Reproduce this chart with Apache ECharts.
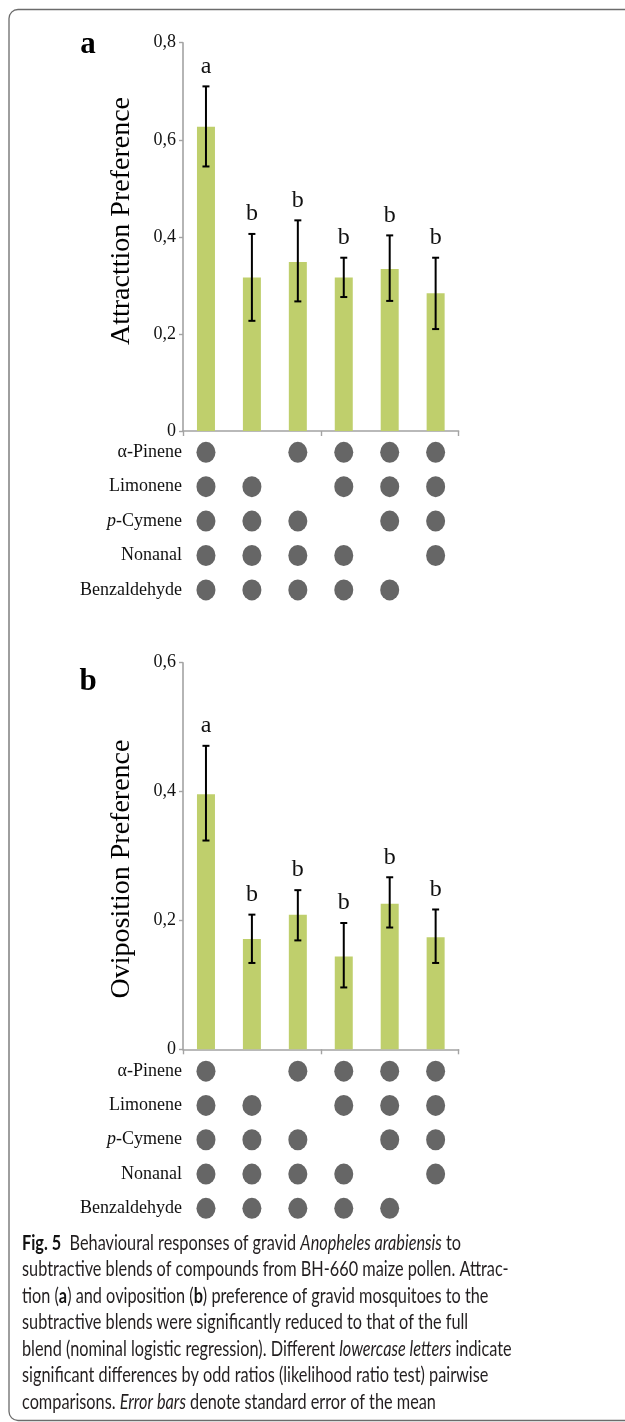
<!DOCTYPE html>
<html>
<head>
<meta charset="utf-8">
<script src="https://cdn.jsdelivr.net/npm/echarts@6/dist/echarts.min.js"></script>
<style>
html,body{margin:0;padding:0;background:#fff;}
#chart{width:625px;height:1422px;}
</style>
</head>
<body>
<div id="chart"></div>
<script>
// ---- data ----
const blends = ['Full blend', '−α-Pinene', '−Limonene', '−p-Cymene', '−Nonanal', '−Benzaldehyde'];
const compounds = ['α-Pinene', 'Limonene', 'p-Cymene', 'Nonanal', 'Benzaldehyde'];

const attrMean = [0.627, 0.316, 0.348, 0.316, 0.334, 0.284];
const attrLow  = [0.545, 0.227, 0.267, 0.276, 0.268, 0.210];
const attrHigh = [0.710, 0.406, 0.434, 0.357, 0.403, 0.357];
const attrLetters = ['a', 'b', 'b', 'b', 'b', 'b'];

const ovipMean = [0.396, 0.171, 0.209, 0.144, 0.226, 0.174];
const ovipLow  = [0.324, 0.134, 0.169, 0.096, 0.189, 0.134];
const ovipHigh = [0.471, 0.209, 0.247, 0.196, 0.267, 0.217];
const ovipLetters = ['a', 'b', 'b', 'b', 'b', 'b'];

// presence of each compound (rows) in each blend (columns)
const presAlphaPinene  = [1, 0, 1, 1, 1, 1];
const presLimonene     = [1, 1, 0, 1, 1, 1];
const presPCymene      = [1, 1, 1, 0, 1, 1];
const presNonanal      = [1, 1, 1, 1, 0, 1];
const presBenzaldehyde = [1, 1, 1, 1, 1, 0];

const attrTicks = [0, 0.2, 0.4, 0.6, 0.8];
const ovipTicks = [0, 0.2, 0.4, 0.6];

const captionLines = [
  '{b|Fig. 5}  Behavioural responses of gravid {i|Anopheles arabiensis} to',
  'subtractive blends of compounds from BH-660 maize pollen. Attrac-',
  'tion ({b|a}) and oviposition ({b|b}) preference of gravid mosquitoes to the',
  'subtractive blends were significantly reduced to that of the full',
  'blend (nominal logistic regression). Different {i|lowercase letters} indicate',
  'significant differences by odd ratios (likelihood ratio test) pairwise',
  'comparisons. {i|Error bars} denote standard error of the mean'
];

// ---- styles ----
const SERIF = '"Liberation Serif", "Times New Roman", serif';
const SANS = 'Lato, "Open Sans", sans-serif';
const BAR_COLOR = '#bfcf6c';
const AXIS_COLOR = '#a3a3a3';
const DOT_COLOR = '#666666';

const presence = [presAlphaPinene, presLimonene, presPCymene, presNonanal, presBenzaldehyde];
function dotData() {
  const out = [];
  presence.forEach((row, r) => row.forEach((v, c) => { if (v) out.push([c, r]); }));
  return out;
}

const G = [
  {left: 183, top: 42.7, width: 275.6, height: 388.3},   // bars a
  {left: 183, top: 435.1, width: 275.6, height: 172},    // dots a
  {left: 183, top: 662.7, width: 275.6, height: 386.6},  // bars b
  {left: 183, top: 1054, width: 275.6, height: 171.5}    // dots b
];

function valAxis(gi, max) {
  return {
    type: 'value', gridIndex: gi, min: 0, max: max, interval: 0.2,
    axisLine: {show: true, lineStyle: {color: AXIS_COLOR, width: 1.6}},
    axisTick: {show: true, length: 4, lineStyle: {color: AXIS_COLOR, width: 1.4}},
    splitLine: {show: false},
    axisLabel: {
      margin: 7, color: '#111', fontFamily: SERIF, fontSize: 18,
      formatter: v => v === 0 ? '0' : v.toFixed(1).replace('.', ',')
    }
  };
}
function catAxisBars(gi) {
  return {
    type: 'category', gridIndex: gi, data: blends,
    axisLine: {show: true, lineStyle: {color: AXIS_COLOR, width: 1.6}},
    axisTick: {show: true, inside: false, length: 5, lineStyle: {color: AXIS_COLOR, width: 1.4}},
    axisLabel: {show: false}
  };
}
function catAxisDots(gi) {
  return {
    type: 'category', gridIndex: gi, data: blends,
    axisLine: {show: false}, axisTick: {show: false}, axisLabel: {show: false}
  };
}
function rowAxis(gi) {
  return {
    type: 'category', gridIndex: gi, data: compounds, inverse: true,
    axisLine: {show: false}, axisTick: {show: false}, splitLine: {show: false},
    axisLabel: {
      margin: 1, color: '#111', fontFamily: SERIF, fontSize: 18,
      formatter: v => v === 'p-Cymene' ? '{i|p}-Cymene' : v,
      rich: {i: {fontStyle: 'italic', fontFamily: SERIF, fontSize: 18, color: '#111'}}
    }
  };
}

function errSeries(ai, low, high, letters) {
  return {
    type: 'custom', xAxisIndex: ai, yAxisIndex: ai, z: 5,
    data: blends.map((b, i) => [i, low[i], high[i]]),
    renderItem: function (params, api) {
      const lo = api.coord([api.value(0), api.value(1)]);
      const hi = api.coord([api.value(0), api.value(2)]);
      const cap = 3.5;
      const st = {stroke: '#000', lineWidth: 2};
      return {
        type: 'group',
        children: [
          {type: 'line', shape: {x1: lo[0], y1: lo[1], x2: hi[0], y2: hi[1]}, style: st},
          {type: 'line', shape: {x1: lo[0] - cap, y1: lo[1], x2: lo[0] + cap, y2: lo[1]}, style: st},
          {type: 'line', shape: {x1: hi[0] - cap, y1: hi[1], x2: hi[0] + cap, y2: hi[1]}, style: st},
          {type: 'text', x: hi[0], y: hi[1] - 20,
           style: {text: letters[params.dataIndex], fill: '#111', font: '24px ' + SERIF,
                   textAlign: 'center', textVerticalAlign: 'middle'}}
        ]
      };
    }
  };
}
function barSeries(ai, vals) {
  return {
    type: 'bar', xAxisIndex: ai, yAxisIndex: ai, data: vals, barWidth: 18,
    itemStyle: {color: BAR_COLOR}, silent: true
  };
}
function dotSeries(ai) {
  return {
    type: 'scatter', xAxisIndex: ai, yAxisIndex: ai, data: dotData(),
    symbol: 'circle', symbolSize: [19, 21], itemStyle: {color: DOT_COLOR, opacity: 1}, silent: true
  };
}

// caption scaling so that the widest line fits the measured width
const capFontSize = 20.5;
const capCanvas = document.createElement('canvas').getContext('2d');
capCanvas.font = capFontSize + 'px Lato';
const plain5 = captionLines[4].replace(/\{[a-z]\|([^}]*)\}/g, '$1');
const capScale = Math.min(1, 498 / capCanvas.measureText(plain5).width);

const capTop = 1243;
const capStep = 26.5;

const graphics = [
  {type: 'rect', shape: {x: 9, y: 9.5, width: 700, height: 1411, r: 9},
   style: {fill: 'none', stroke: '#6b6b6b', lineWidth: 1.3}, silent: true},
  {type: 'text', x: 88, y: 45, style: {text: 'a', font: 'bold 31px ' + SERIF, fill: '#000', textAlign: 'center', textVerticalAlign: 'middle'}},
  {type: 'text', x: 88, y: 682, style: {text: 'b', font: 'bold 31px ' + SERIF, fill: '#000', textAlign: 'center', textVerticalAlign: 'middle'}},
  {type: 'text', x: 121.7, y: 221, rotation: Math.PI / 2,
   style: {text: 'Attracttion Preference', font: '28px ' + SERIF, fill: '#000', textAlign: 'center', textVerticalAlign: 'middle'}},
  {type: 'text', x: 121.7, y: 869, rotation: Math.PI / 2,
   style: {text: 'Oviposition Preference', font: '28px ' + SERIF, fill: '#000', textAlign: 'center', textVerticalAlign: 'middle'}}
];
captionLines.forEach((line, i) => {
  graphics.push({
    type: 'text', x: 22, y: capTop + i * capStep, scaleX: capScale, scaleY: 1,
    style: {
      text: line, fill: '#231f20', fontFamily: SANS, fontSize: capFontSize,
      textAlign: 'left', textVerticalAlign: 'middle',
      rich: {
        b: {fontWeight: 'bold', fontFamily: SANS, fontSize: capFontSize, fill: '#111'},
        i: {fontStyle: 'italic', fontFamily: SANS, fontSize: capFontSize, fill: '#231f20'}
      }
    }
  });
});

const chart = echarts.init(document.getElementById('chart'), null, {renderer: 'canvas'});
chart.setOption({
  backgroundColor: '#fff',
  animation: false,
  grid: G,
  xAxis: [catAxisBars(0), catAxisDots(1), catAxisBars(2), catAxisDots(3)],
  yAxis: [valAxis(0, 0.8), rowAxis(1), valAxis(2, 0.6), rowAxis(3)],
  series: [
    barSeries(0, attrMean), errSeries(0, attrLow, attrHigh, attrLetters), dotSeries(1),
    barSeries(2, ovipMean), errSeries(2, ovipLow, ovipHigh, ovipLetters), dotSeries(3)
  ],
  graphic: graphics
});
</script>
</body>
</html>
